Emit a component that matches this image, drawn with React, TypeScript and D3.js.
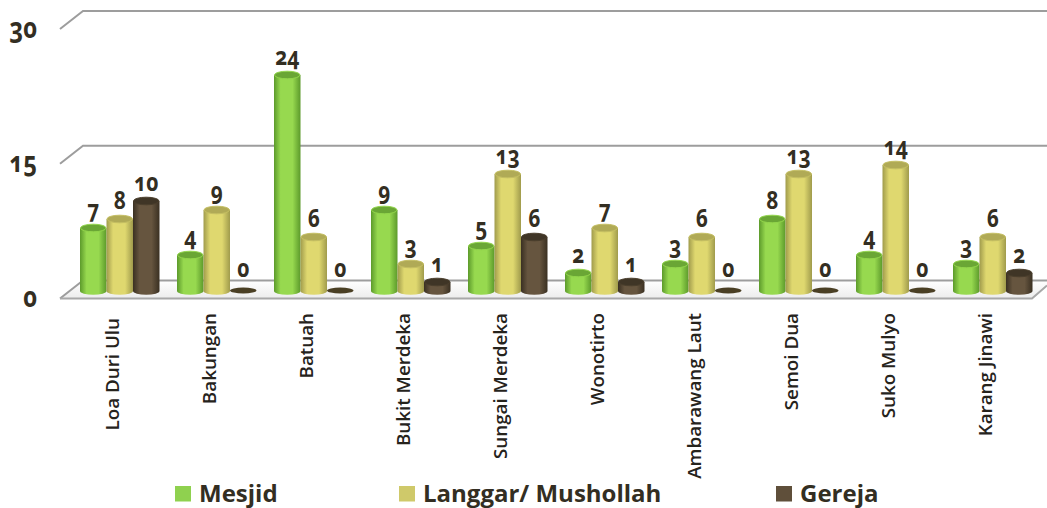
import React from "react";
import * as d3 from "d3";

const categories = ["Loa Duri Ulu","Bakungan","Batuah","Bukit Merdeka","Sungai Merdeka","Wonotirto","Ambarawang Laut","Semoi Dua","Suko Mulyo","Karang Jinawi"];
const mesjid = [7,4,24,9,5,2,3,8,4,3];
const langgar = [8,9,6,3,13,7,6,13,14,6];
const gereja = [10,0,0,1,6,1,0,0,0,2];
const seriesNames = ["Mesjid","Langgar/ Mushollah","Gereja"];
const yTicks = [0,15,30];

const font = "'Open Sans', 'Noto Sans', sans-serif";
const textCol = "#332e22";
const seriesVals = [mesjid, langgar, gereja];
const ramps = [
  { id: "g0", edge: "#5c9a2b", mid: "#97d94f", top: "#6aa635", rim: "#93d64c", legend: "#8fd14f" },
  { id: "g1", edge: "#a09b4c", mid: "#dfd86f", top: "#b0aa56", rim: "#c4be62", legend: "#cfc96a" },
  { id: "g2", edge: "#3a3022", mid: "#66553f", top: "#3f3526", rim: "#4a3e2c", legend: "#5f4f3a" },
];

const y = d3.scaleLinear().domain([0, 30]).range([291, 21]);
const band = d3.scaleBand<number>().domain(d3.range(categories.length)).range([71, 1041]);
const depth = { dx: 23, dy: -18 };
const gridY = d3.scaleLinear().domain([0, 30]).range([298.5, 29]);
const oldNums: React.CSSProperties = { fontVariantNumeric: "oldstyle-nums" };

function Num({ x, y: yy, v, size, anchor }: { x: number; y: number; v: number; size: number; anchor: "middle" | "end" }) {
  return (
    <text transform={`translate(${x},${yy}) scale(0.95,1.14)`} textAnchor={anchor} fontSize={size} fontWeight={700} fill={textCol} style={oldNums}>{v}</text>
  );
}

export default function App() {
  const barW = 26.5;
  const floorY = gridY(0);
  return (
    <svg width={1047} height={508} style={{ position: "absolute", left: 0, top: 0, fontFamily: font }}>
      <defs>
        {ramps.map((r) => (
          <linearGradient key={r.id} id={r.id} x1="0" x2="1" y1="0" y2="0">
            <stop offset="0" stopColor={r.edge} />
            <stop offset="0.25" stopColor={r.mid} />
            <stop offset="0.7" stopColor={r.mid} />
            <stop offset="1" stopColor={r.edge} />
          </linearGradient>
        ))}
        <linearGradient id="floor" x1="0" x2="0" y1="0" y2="1">
          <stop offset="0" stopColor="#ffffff" />
          <stop offset="1" stopColor="#ececec" />
        </linearGradient>
      </defs>
      <polygon
        points={`60,${floorY} ${60 + depth.dx},${floorY + depth.dy} 1047,${floorY + depth.dy} 1047,${floorY - 13} 1032,${floorY}`}
        fill="url(#floor)"
      />
      {yTicks.map((t) => {
        const yy = gridY(t);
        const path = d3.line()([
          [60, yy],
          [60 + depth.dx, yy + depth.dy],
          [1047, yy + depth.dy],
        ]);
        return (
          <g key={t}>
            <path d={path!} fill="none" stroke="#9d9d9d" strokeWidth={2} />
            <Num x={37} y={yy + 8.5} v={t} size={25} anchor="end" />
          </g>
        );
      })}
      <path d={`M60,${floorY} L1032,${floorY} L1047,${floorY - 13}`} fill="none" stroke="#a8a8a8" strokeWidth={2} />
      {categories.map((c, i) => {
        const x0 = band(i)! + 9;
        return (
          <g key={c}>
            {seriesVals.map((vals, s) => {
              const v = vals[i];
              const r = ramps[s];
              const bx = x0 + s * barW;
              const top = y(v);
              const ry = 3.8;
              if (v === 0) {
                return (
                  <g key={s}>
                    <ellipse cx={bx + barW / 2} cy={y(0) - 0.5} rx={barW / 2} ry={3} fill="#4a3f24" />
                    <Num x={bx + barW / 2} y={top - 14} v={v} size={22} anchor="middle" />
                  </g>
                );
              }
              return (
                <g key={s}>
                  <path
                    d={`M${bx},${top} L${bx},${y(0)} A${barW / 2},${ry} 0 0 0 ${bx + barW},${y(0)} L${bx + barW},${top} Z`}
                    fill={`url(#${r.id})`}
                  />
                  <ellipse cx={bx + barW / 2} cy={top} rx={barW / 2 - 0.5} ry={ry} fill={r.top} stroke={r.rim} strokeWidth={1} />
                  <Num x={bx + barW / 2} y={top - 10} v={v} size={22} anchor="middle" />
                </g>
              );
            })}
            <text
              transform={`translate(${band(i)! + 47.5},${i === 0 ? 318 : 313}) rotate(-90)`}
              textAnchor="end"
              fontSize={18.8}
              fontWeight={600}
              fill="#26231c"
            >{c}</text>
          </g>
        );
      })}
      {[175, 399, 776].map((lx, i) => (
        <g key={i}>
          <rect x={lx} y={486} width={16} height={15.5} fill={ramps[i].legend} />
          <text x={lx + 24} y={502} fontSize={24} fontWeight={700} fill={textCol}>{seriesNames[i]}</text>
        </g>
      ))}
    </svg>
  );
}
